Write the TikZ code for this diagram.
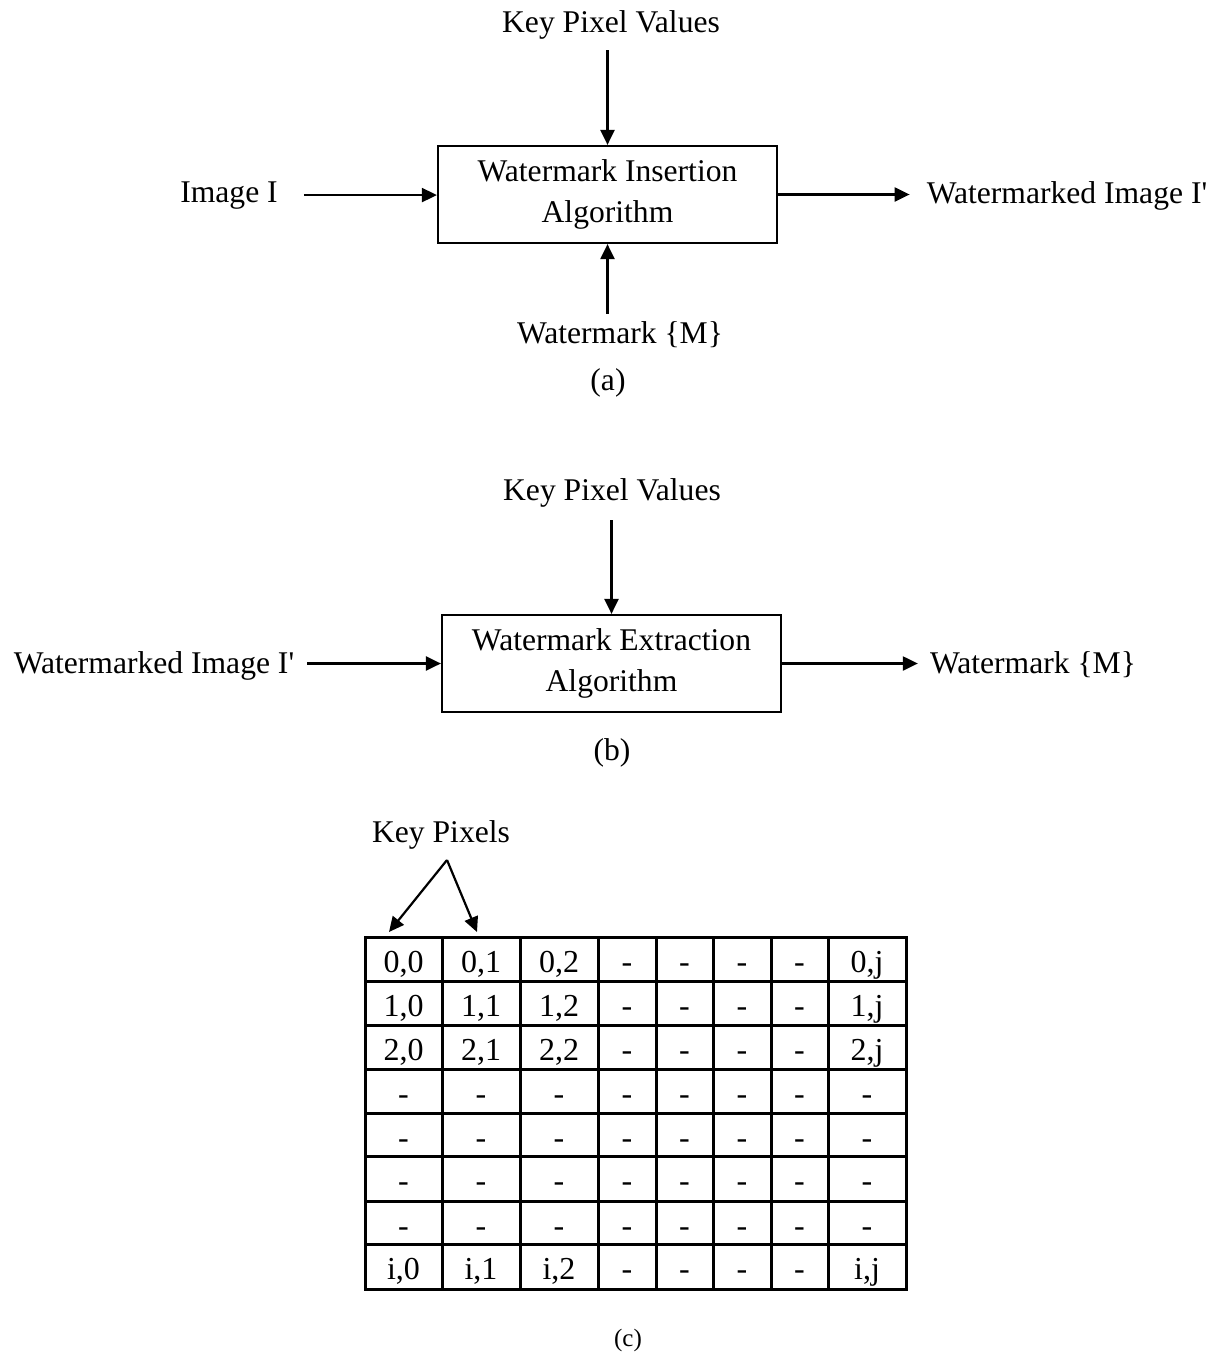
\documentclass[tikz,border=0pt]{standalone}
\usepackage{fontspec}
\setmainfont{Liberation Serif}
\usetikzlibrary{arrows.meta}
\begin{document}
\begin{tikzpicture}[x=1pt,y=-1pt,
  lbl/.style={inner sep=0pt, anchor=base, font=\fontsize{31.6}{41}\selectfont},
  blk/.style={draw, line width=2.2pt, minimum width=339pt, minimum height=97pt, align=center, inner sep=0pt, font=\fontsize{31.6}{41}\selectfont},
  arr/.style={line width=2.2pt, -{Triangle[length=15pt,width=14pt]}},
  cell/.style={inner sep=0pt, anchor=base, font=\fontsize{32}{38}\selectfont},
  gridline/.style={line width=3pt}]
\useasboundingbox (0,0) rectangle (1215,1360);
% ---------- (a)
\node[blk] (boxA) at (607.5,194.5) {Watermark Insertion\\Algorithm};
\node[lbl] (kpvA) at (611,32) {Key Pixel Values};
\node[lbl] (imgA) at (229,202) {Image I};
\node[lbl] (outA) at (1067,203) {Watermarked Image I\textquotesingle};
\node[lbl] (wmA) at (620,343) {Watermark \{M\}};
\node[lbl] (capA) at (608,390) {(a)};
\draw[arr, shorten <=11pt] (kpvA.south -| boxA.north) -- (boxA.north);
\draw[arr, shorten <=26pt] (imgA.east) -- (imgA.east -| boxA.west);
\draw[arr, shorten >=17pt] (boxA.east) -- (boxA.east -| outA.west);
\draw[arr, shorten <=7pt] (wmA.north -| boxA.south) -- (boxA.south);
% ---------- (b)
\node[blk] (boxB) at (611.5,663.5) {Watermark Extraction\\Algorithm};
\node[lbl] (kpvB) at (612,500) {Key Pixel Values};
\node[lbl] (inB) at (154,673) {Watermarked Image I\textquotesingle};
\node[lbl] (outB) at (1033,673) {Watermark \{M\}};
\node[lbl] (capB) at (612,760) {(b)};
\draw[arr, shorten <=13pt] (kpvB.south -| boxB.north) -- (boxB.north);
\draw[arr, shorten <=13pt] (inB.east |- boxB.west) -- (boxB.west);
\draw[arr, shorten >=12pt] (boxB.east) -- (boxB.east -| outB.west);
% ---------- (c)
\node[lbl] (kp) at (441,842) {Key Pixels};
\coordinate (apex) at (447,860);
\coordinate (t1) at (389,932);
\coordinate (t2) at (477,932);
\draw[arr] (apex) -- (t1);
\draw[arr] (apex) -- (t2);
\draw[gridline] (365,937) rectangle (906,1289);
\foreach \x in {442,520,598,656,713,771,828} \draw[gridline] (\x,937) -- (\x,1289);
\foreach \y in {981,1025,1069,1113,1156,1201,1244} \draw[gridline] (365,\y) -- (906,\y);
\foreach \r/\y/\p in {0/972/0,1/1016/1,2/1060/2,7/1279/i}{
  \foreach \x/\t [count=\c] in {403.5/{\p,0},481/{\p,1},559/{\p,2},627/-,684.5/-,742/-,799.5/-,867/{\p,j}}
    \node[cell] (c\r-\c) at (\x,\y) {\t};
}
\foreach \r/\y in {3/1104,4/1148,5/1191,6/1236}{
  \foreach \x [count=\c] in {403.5,481,559,627,684.5,742,799.5,867}
    \node[cell] (c\r-\c) at (\x,\y) {-};
}
\node[lbl, font=\fontsize{25}{30}\selectfont] (capC) at (628,1346) {(c)};
\end{tikzpicture}
\end{document}
